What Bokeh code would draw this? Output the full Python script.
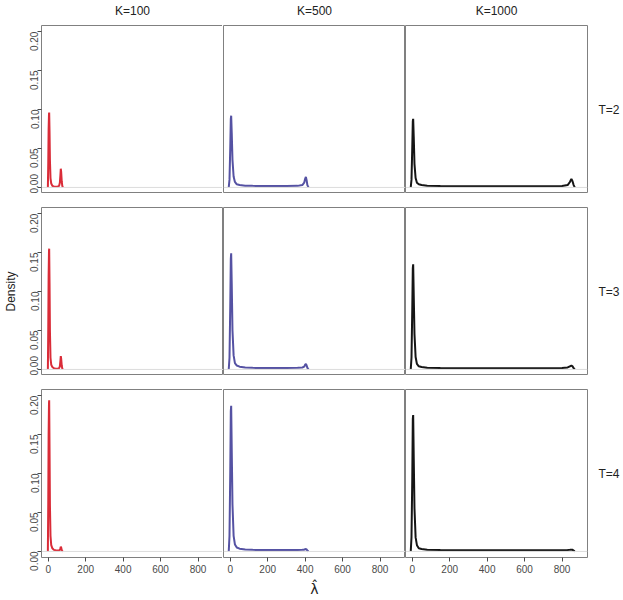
import math
from bokeh.plotting import figure
from bokeh.layouts import gridplot
from bokeh.models import Range1d, FixedTicker, Span, LinearAxis
from bokeh.embed import file_html
from bokeh.resources import INLINE

# ---------------- data ----------------
k_labels = ["K=100", "K=500", "K=1000"]
t_labels = ["T=2", "T=3", "T=4"]
colors = ["#DA2C38", "#5552A3", "#151515"]

x_ticks = [0, 200, 400, 600, 800]
x_tick_text = ["0", "200", "400", "600", "800"]
y_ticks = [0.0, 0.05, 0.10, 0.15, 0.20]
y_tick_text = ["0.00", "0.05", "0.10", "0.15", "0.20"]

# lambda-hat grid per K
x_k100 = [-2, 0, 2, 4, 5, 7, 9, 12, 16, 22, 30, 40, 50, 58, 62, 65, 67, 69, 72, 75, 78]
x_k500 = [-8, -4, 0, 3, 5, 8, 12, 18, 25, 35, 50, 80, 120, 200, 300, 360, 385, 395,
          400, 404, 408, 412, 418]
x_k1000 = [-8, -4, 0, 3, 5, 8, 12, 18, 25, 35, 50, 80, 150, 300, 500, 700, 800, 830,
           842, 850, 856, 862, 868]

# densities, K=100
d_k100_t2 = [0, 0.030, 0.075, 0.094, 0.096, 0.070, 0.035, 0.012, 0.005, 0.002, 0.0012,
             0.001, 0.001, 0.002, 0.006, 0.016, 0.024, 0.020, 0.008, 0.002, 0]
d_k100_t3 = [0, 0.050, 0.120, 0.152, 0.155, 0.110, 0.050, 0.015, 0.006, 0.003, 0.0015,
             0.001, 0.001, 0.0015, 0.004, 0.011, 0.017, 0.014, 0.005, 0.001, 0]
d_k100_t4 = [0, 0.060, 0.150, 0.190, 0.194, 0.130, 0.060, 0.020, 0.008, 0.004, 0.002,
             0.0015, 0.0012, 0.0012, 0.002, 0.004, 0.006, 0.005, 0.002, 0.0005, 0]
# densities, K=500
d_k500_t2 = [0, 0.010, 0.050, 0.088, 0.092, 0.070, 0.035, 0.014, 0.007, 0.004, 0.003,
             0.0022, 0.002, 0.0018, 0.0018, 0.002, 0.003, 0.006, 0.011, 0.0135, 0.009,
             0.003, 0]
d_k500_t3 = [0, 0.015, 0.080, 0.142, 0.149, 0.110, 0.050, 0.018, 0.008, 0.005, 0.0035,
             0.0025, 0.002, 0.0018, 0.0018, 0.002, 0.0025, 0.0035, 0.006, 0.007, 0.005,
             0.002, 0]
d_k500_t4 = [0, 0.020, 0.100, 0.180, 0.187, 0.130, 0.060, 0.020, 0.009, 0.005, 0.0035,
             0.0025, 0.002, 0.0018, 0.0018, 0.0018, 0.002, 0.0022, 0.0028, 0.003, 0.0025,
             0.001, 0]
# densities, K=1000
d_k1000_t2 = [0, 0.010, 0.050, 0.085, 0.088, 0.065, 0.030, 0.012, 0.006, 0.004, 0.003,
              0.0022, 0.0018, 0.0015, 0.0015, 0.0015, 0.0018, 0.003, 0.007, 0.011, 0.008,
              0.003, 0]
d_k1000_t3 = [0, 0.015, 0.075, 0.130, 0.135, 0.095, 0.045, 0.016, 0.007, 0.004, 0.003,
              0.0022, 0.0018, 0.0015, 0.0015, 0.0015, 0.0018, 0.0025, 0.004, 0.005, 0.004,
              0.0015, 0]
d_k1000_t4 = [0, 0.018, 0.090, 0.170, 0.175, 0.120, 0.055, 0.018, 0.008, 0.004, 0.003,
              0.0022, 0.0018, 0.0015, 0.0015, 0.0015, 0.0016, 0.0018, 0.002, 0.0022, 0.002,
              0.001, 0]

xs = [x_k100, x_k500, x_k1000]
dens = [[d_k100_t2, d_k500_t2, d_k1000_t2],
        [d_k100_t3, d_k500_t3, d_k1000_t3],
        [d_k100_t4, d_k500_t4, d_k1000_t4]]

# ---------------- layout ----------------
FW, FH = 182, 168
X0, X1 = -36, 936
Y0, Y1 = -0.0078, 0.2078
FONT = "Liberation Sans"
TICK_COLOR = "#4a4a4a"
TEXT_COLOR = "#222222"
BOX_COLOR = "#808080"


def style_text_axis(ax, standoff):
    ax.axis_line_color = None
    ax.major_tick_line_color = None
    ax.minor_tick_line_color = None
    ax.major_tick_out = 0
    ax.major_tick_in = 0
    ax.major_label_standoff = standoff
    ax.major_label_text_font = FONT
    ax.major_label_text_font_size = "12px"
    ax.major_label_text_color = TEXT_COLOR


rows = []
for r in range(3):
    row = []
    for c in range(3):
        p = figure(
            frame_width=FW, frame_height=FH,
            x_range=Range1d(X0, X1), y_range=Range1d(Y0, Y1),
            x_axis_location="below" if r == 2 else None,
            y_axis_location="left" if c == 0 else None,
            output_backend="svg", toolbar_location=None, tools="",
            min_border_left=40 if c == 0 else 0,
            min_border_right=35 if c == 2 else 0,
            min_border_top=22 if r == 0 else 14,
            min_border_bottom=44 if r == 2 else 0,
            background_fill_color="white", border_fill_color="white",
        )
        p.grid.visible = False
        p.outline_line_color = BOX_COLOR
        p.outline_line_width = 1

        for ax in p.axis:
            ax.axis_line_color = None
            ax.major_tick_line_color = TICK_COLOR
            ax.major_tick_out = 4
            ax.major_tick_in = 0
            ax.minor_tick_line_color = None
            ax.major_label_text_font = FONT
            ax.major_label_text_font_size = "10px"
            ax.major_label_text_color = TICK_COLOR
            ax.major_label_standoff = 3
            ax.axis_label_text_font = FONT
            ax.axis_label_text_font_style = "normal"
            ax.axis_label_text_color = TEXT_COLOR
        if r == 2:
            p.xaxis.ticker = FixedTicker(ticks=x_ticks)
            p.xaxis.major_label_overrides = dict(zip(x_ticks, x_tick_text))
            if c == 1:
                p.xaxis.axis_label = "\u03bb\u0302"
                p.xaxis.axis_label_text_font = "DejaVu Sans"
                p.xaxis.axis_label_text_font_size = "14px"
                p.xaxis.axis_label_standoff = 5
        if c == 0:
            p.yaxis.ticker = FixedTicker(ticks=y_ticks)
            p.yaxis.major_label_overrides = dict(zip(y_ticks, y_tick_text))
            p.yaxis.major_label_orientation = math.pi / 2
            if r == 1:
                p.yaxis.axis_label = "Density"
                p.yaxis.axis_label_text_font_size = "12px"
                p.yaxis.axis_label_standoff = 6

        # column headers (K) above the top row, row headers (T) right of last column
        if r == 0:
            mid_x = (X0 + X1) / 2
            top_ax = LinearAxis(ticker=FixedTicker(ticks=[mid_x]),
                                major_label_overrides={mid_x: k_labels[c]})
            style_text_axis(top_ax, 8)
            p.add_layout(top_ax, "above")
        if c == 2:
            mid_y = (Y0 + Y1) / 2
            right_ax = LinearAxis(ticker=FixedTicker(ticks=[mid_y]),
                                  major_label_overrides={mid_y: t_labels[r]},
                                  major_label_orientation="horizontal")
            style_text_axis(right_ax, 11)
            p.add_layout(right_ax, "right")

        p.add_layout(Span(location=0, dimension="width", line_color="#dcdcdc", line_width=1))
        p.line(xs[c], dens[r][c], line_color=colors[c], line_width=2)
        row.append(p)
    rows.append(row)

grid = gridplot(rows, toolbar_location=None)

open("out.html", "w").write(file_html(grid, INLINE))
